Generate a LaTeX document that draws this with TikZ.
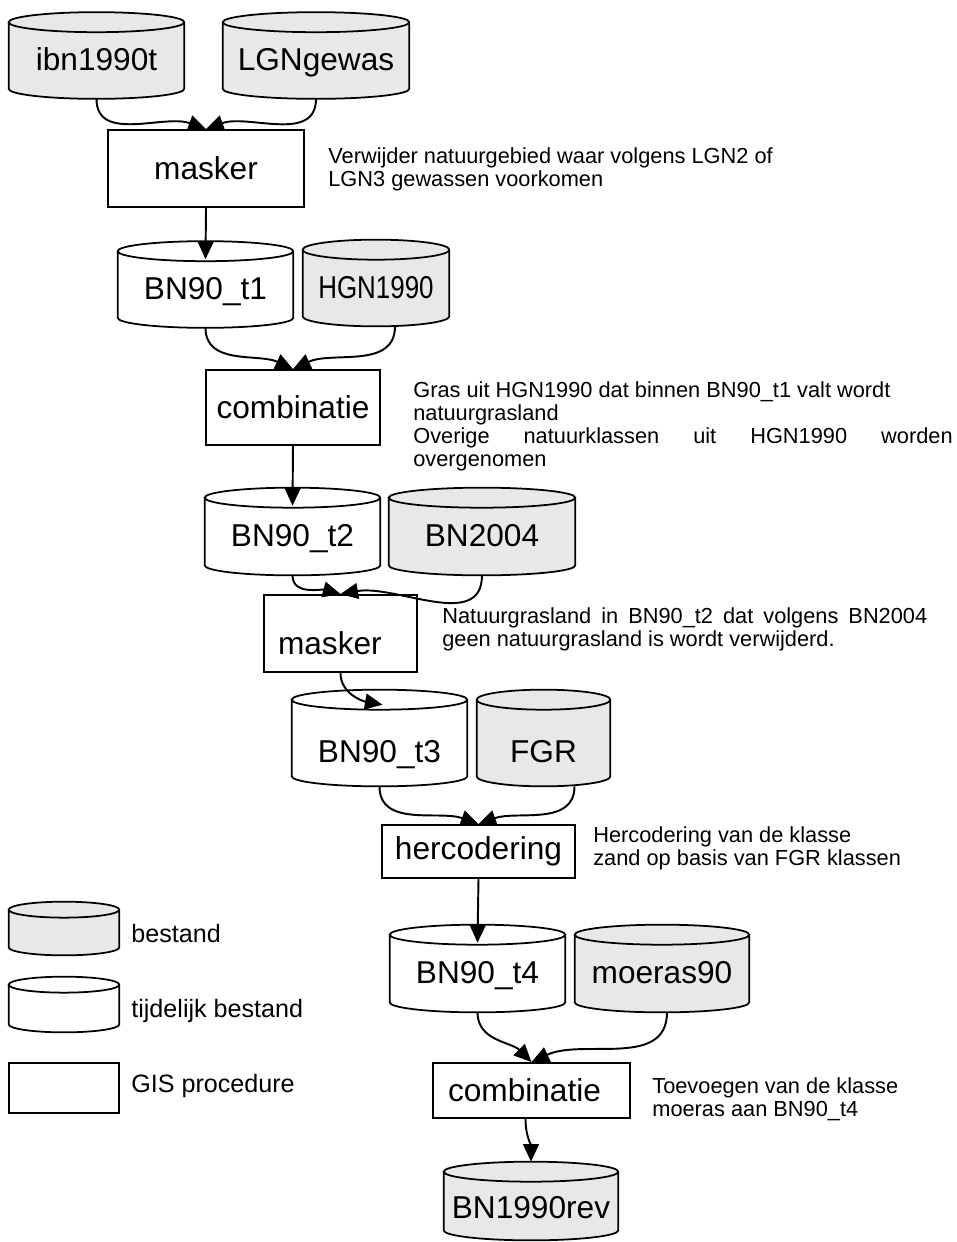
\documentclass[tikz,border=0pt]{standalone}
\usepackage{fontspec}
\setmainfont{Liberation Sans}
\usetikzlibrary{arrows.meta,calc}
\definecolor{tankgrey}{RGB}{232,232,232}
\pgfdeclarelayer{background}
\pgfsetlayers{background,main}

% cylinder outline behind a tank node: node, fill, half height of the lid
\newcommand\drawtank[3]{%
  \draw[line width=1pt, fill=#2] let \p1=(#1.north west), \p2=(#1.south east), \n1={(\x2-\x1)/2} in
    (\x1,\y1-#3) -- (\x1,\y2+#3)
    arc[start angle=180, end angle=360, x radius=\n1, y radius=#3]
    -- (\x2,\y1-#3)
    arc[start angle=0, end angle=180, x radius=\n1, y radius=#3]
    arc[start angle=180, end angle=360, x radius=\n1, y radius=#3];
}

\begin{document}
\begin{tikzpicture}[
  x=0.02cm, y=-0.02cm,
  tank/.style={rectangle, inner sep=0pt, minimum height=1.72cm, text height=17.5pt, text depth=0pt, font=\fontsize{18}{20}\selectfont},
  procbox/.style={draw, line width=1.1pt, inner sep=0pt, minimum height=1.54cm, font=\fontsize{18}{20}\selectfont},
  note/.style={anchor=north west, inner sep=0pt, align=left, font=\fontsize{12.4}{13.1}\selectfont},
  legendtext/.style={anchor=base west, inner sep=0pt, font=\fontsize{14.3}{16}\selectfont},
  flow/.style={line width=1.1pt, -{Triangle[length=10pt,width=9pt]}}
]
\useasboundingbox (0,0) rectangle (957,1242);

% flow
\node[tank, minimum width=3.5cm] (ibn) at (96.5,55.5) {ibn1990t};
\node[tank, minimum width=3.72cm] (lgn) at (316,55.5) {LGNgewas};
\node[procbox, minimum width=3.92cm] (mask1) at (206,168.5) {masker};
\node[tank, minimum width=3.5cm] (bnA) at (205.5,284.5) {BN90\_t1};
\node[tank, minimum width=2.92cm] (hgn) at (376,283) {\scalebox{0.82}[1]{HGN1990}};
\node[procbox, minimum width=3.48cm, minimum height=1.5cm] (comb1) at (293,407.5) {combinatie};
\node[tank, minimum width=3.5cm, minimum height=1.74cm] (bnB) at (292.5,531.5) {BN90\_t2};
\node[tank, minimum width=3.72cm, minimum height=1.74cm] (bn04) at (482,531.5) {BN2004};
\node[procbox, text width=2.5cm, inner xsep=0.28cm, align=left, text height=24.3pt, text depth=0pt] (mask2) at (340.5,633.5) {masker};
\node[tank, minimum width=3.5cm, minimum height=1.92cm, text height=28pt] (bnC) at (379.5,738) {BN90\_t3};
\node[tank, minimum width=2.66cm, minimum height=1.92cm, text height=28pt] (fgr) at (543.5,738) {FGR};
\node[procbox, minimum width=3.86cm, minimum height=1.06cm] (herc) at (478.5,851.5) {hercodering};
\node[tank, minimum width=3.5cm, minimum height=1.74cm] (bnD) at (477.5,968.5) {BN90\_t4};
\node[tank, minimum width=3.48cm, minimum height=1.74cm] (moe) at (662,968.5) {moeras90};
\node[procbox, text width=3.34cm, inner xsep=0.3cm, align=left, minimum height=1.1cm] (comb2) at (531.5,1090.5) {combinatie};
\node[tank, minimum width=3.48cm, minimum height=1.56cm, text height=20pt] (bnE) at (531,1201) {BN1990rev};

% notes
\node[note] (n1) at (328,147) {Verwijder natuurgebied waar volgens LGN2 of\\LGN3 gewassen voorkomen};
\node[note] (n2) at (413,381) {Gras uit HGN1990 dat binnen BN90\_t1 valt wordt\\natuurgrasland\\\makebox[307pt][s]{Overige natuurklassen uit HGN1990 worden}\\overgenomen};
\node[note] (n3) at (442,607) {\makebox[276pt][s]{Natuurgrasland in BN90\_t2 dat volgens BN2004}\\geen natuurgrasland is wordt verwijderd.};
\node[note] (n4) at (593,826) {Hercodering van de klasse\\zand op basis van FGR klassen};
\node[note] (n5) at (652,1077) {Toevoegen van de klasse\\moeras aan BN90\_t4};

% legend
\node[tank, minimum width=2.2cm, minimum height=1.06cm] (legA) at (64,928.5) {};
\node[tank, minimum width=2.2cm, minimum height=1.1cm] (legB) at (64,1004.5) {};
\node[procbox, minimum width=2.2cm, minimum height=1.0cm] (legC) at (64,1088) {};
\node[legendtext] (tA) at (131,942) {bestand};
\node[legendtext] (tB) at (131,1017) {tijdelijk bestand};
\node[legendtext] (tC) at (131,1092) {GIS procedure};

% connectors
\draw[flow] (ibn.south) to[out=-90,in=160] (mask1.north);
\draw[flow] (lgn.south) to[out=-90,in=20] (mask1.north);
\draw[flow] (mask1.south) -- ($(bnA.north)+(0,18)$);
\draw[flow] (bnA.south) to[out=-90,in=155] (comb1.north);
\draw[flow] ([xshift=0.38cm]hgn.south) to[out=-90,in=25] (comb1.north);
\draw[flow] (comb1.south) -- ($(bnB.north)+(0,18)$);
\draw[flow] (bnB.south) to[out=-90,in=165] (mask2.north);
\draw[flow] (bn04.south) to[out=-90,in=10] (mask2.north);
\draw[flow] (mask2.south) to[out=-90,in=170] ($(bnC.north)+(3,15)$);
\draw[flow] (bnC.south) to[out=-90,in=160] (herc.north);
\draw[flow] ([xshift=0.62cm]fgr.south) to[out=-90,in=20] (herc.north);
\draw[flow] (herc.south) -- ($(bnD.north)+(0,18)$);
\draw[flow] (bnD.south) to[out=-90,in=135] (comb2.north);
\draw[flow] ([xshift=0.1cm]moe.south) to[out=-90,in=25] (comb2.north);
\draw[flow] ([xshift=-0.12cm]comb2.south) to[out=-90,in=90] (bnE.north);

\begin{pgfonlayer}{background}
  \foreach \tk/\fl in {ibn/tankgrey, lgn/tankgrey, bnA/white, hgn/tankgrey, bnB/white, bn04/tankgrey,
                        bnC/white, fgr/tankgrey, bnD/white, moe/tankgrey, bnE/tankgrey}
    \drawtank{\tk}{\fl}{5.7pt};
  \drawtank{legA}{tankgrey}{4.55pt}
  \drawtank{legB}{white}{4.55pt}
\end{pgfonlayer}
\end{tikzpicture}
\end{document}
